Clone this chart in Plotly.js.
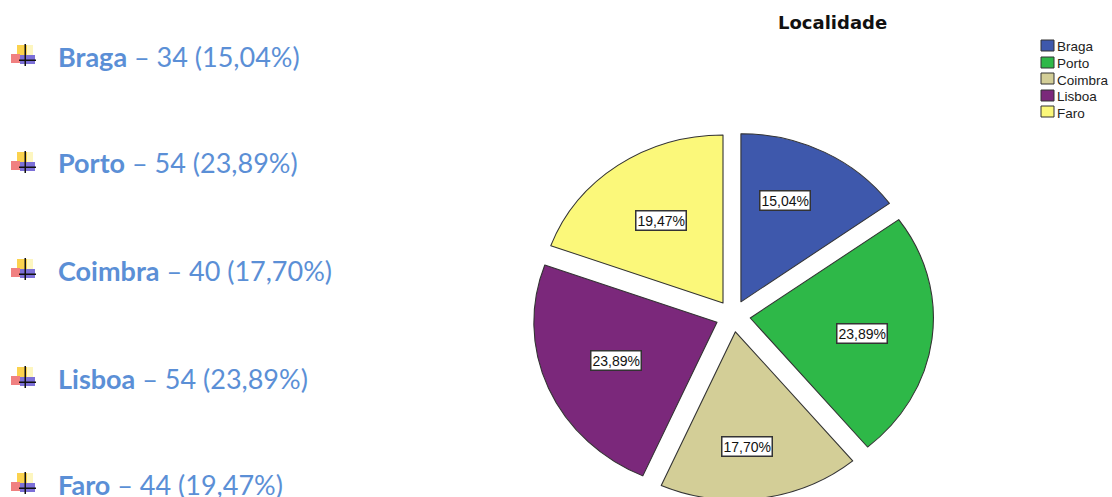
<!DOCTYPE html>
<html><head><meta charset="utf-8">
<script src="https://cdn.plot.ly/plotly-3.0.1.min.js"></script>
<style>html,body{margin:0;padding:0;background:#fff;overflow:hidden;width:1112px;height:497px}</style>
</head><body><div id="chart"></div>
<script>
const categories = ["Braga","Porto","Coimbra","Lisboa","Faro"];
const counts = [34,54,40,54,44];
const colors = ["#3e58ac","#2eb848","#d3ce97","#7b287b","#fbf87a"];
const listRowsY = [56,163,270,378,484];
const legendRowsY = [46,63,79,96,112];
const labelNudgeX = [-5,4,-3,-1,0];
const labelNudgeY = [-3,2,6,-5,8];

const W = 1112, H = 540;
const px = x => x / W, py = y => 1 - y / H;
const total = counts.reduce((a,b)=>a+b,0);
const pct = v => (v/total*100).toFixed(2).replace(".",",") + "%";

const cx = 733, cy = 316, half = 184, pull = 0.095, stretch = 1.09, labelD = 126;
const annotations = [], shapes = [];
const ann = (x,y,text,o) => annotations.push(Object.assign({xref:"paper",yref:"paper",x:px(x),y:py(y),text,showarrow:false,xanchor:"center",yanchor:"middle"},o));
const rect = (x0,y0,x1,y1,fill,line) => shapes.push({type:"rect",xref:"paper",yref:"paper",x0:px(x0),x1:px(x1),y0:py(y0),y1:py(y1),fillcolor:fill,line:line||{width:0}});

ann(832,22,"<b>Localidade</b>",{font:{family:"DejaVu Sans",size:18,color:"#111"}});

let cum = 0;
counts.forEach((v,i)=>{
  const mid = (cum + v/2)/total*2*Math.PI; cum += v;
  ann(cx+labelD*Math.sin(mid)+labelNudgeX[i], cy-labelD*Math.cos(mid)+labelNudgeY[i], pct(v), {font:{family:"Liberation Sans",size:14,color:"#111"},bgcolor:"#fff",bordercolor:"#333",borderwidth:1.5,borderpad:1});

  const y = listRowsY[i], b = y + 1;
  ann(56,y,`<b>${categories[i]}</b> – ${v} (${pct(v)})`,{xanchor:"left",font:{family:"Lato",size:27,color:"#5b8fd6"}});
  rect(17,b-12,27,b-2,"#fbd24e");
  rect(27,b-12,33,b-2,"#fdf6c0");
  rect(11,b-3,20,b+6,"#f08080");
  rect(20,b-2,35,b+7,"#7c70d8");
  rect(24.5,b-13,26,b+9,"#111");
  rect(19,b+2.5,36,b+4,"#111");

  const ly = legendRowsY[i];
  rect(1041,ly-6,1054,ly+5,colors[i],{color:"#333",width:1});
  ann(1055,ly+1,categories[i],{xanchor:"left",font:{family:"Liberation Sans",size:13.5,color:"#222"}});
});

Plotly.newPlot("chart",[{
  type:"pie",labels:categories,values:counts,sort:false,direction:"clockwise",rotation:0,
  pull:pull,textinfo:"none",hoverinfo:"label+percent",
  marker:{colors:colors,line:{color:"#333",width:1}},
  domain:{x:[px(cx-half),px(cx+half)],y:[py(cy+half),py(cy-half)]}
}],{
  width:W,height:H,margin:{l:0,r:0,t:0,b:0},showlegend:false,
  paper_bgcolor:"#fff",annotations,shapes
},{displayModeBar:false}).then(gd=>{
  // the reference pie is an ellipse, wider than it is tall
  gd.querySelector(".pielayer").setAttribute("transform",`translate(${cx*(1-stretch)},0) scale(${stretch},1)`);
});
</script></body></html>
